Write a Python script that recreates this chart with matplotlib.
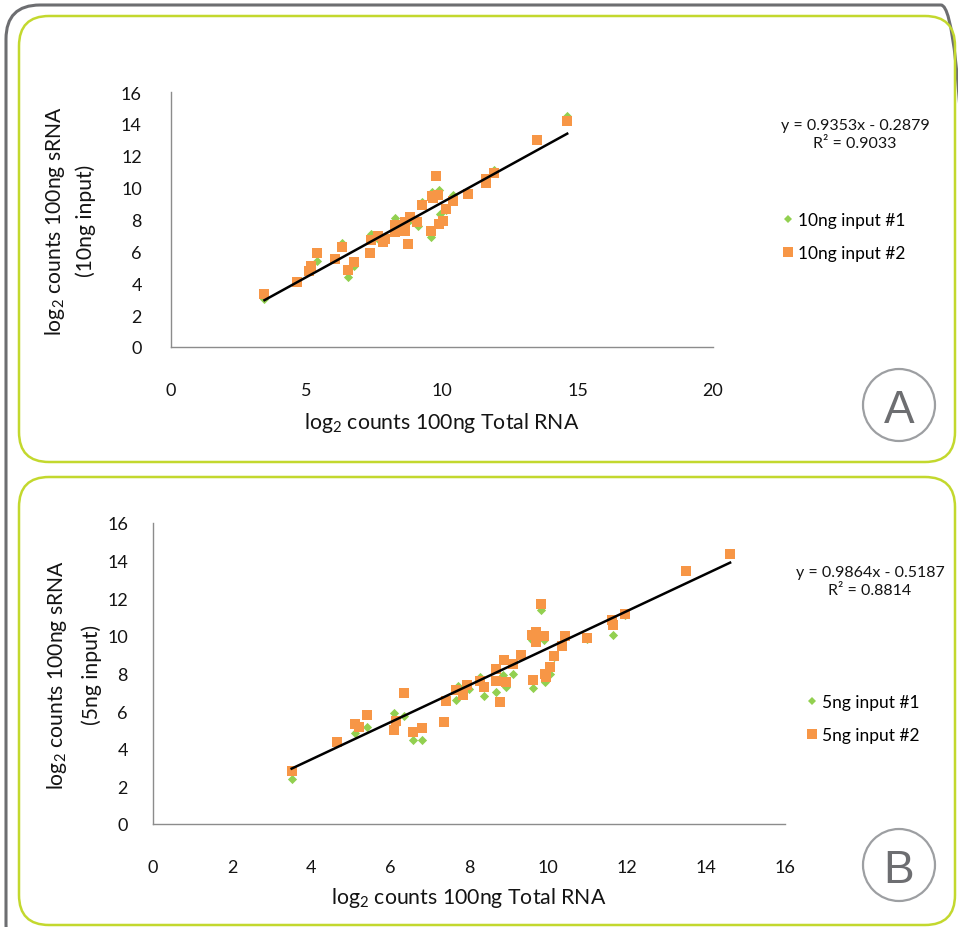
import matplotlib
matplotlib.use("Agg")
import matplotlib.pyplot as plt
from matplotlib.patches import FancyBboxPatch, Circle
from matplotlib.transforms import IdentityTransform
from matplotlib.lines import Line2D
import numpy as np

# ---------------- data ----------------
a_x2 = [3.45, 4.64, 5.08, 5.15, 5.39, 6.06, 6.32, 6.53, 6.76, 7.33, 7.37, 7.65, 7.83, 7.88,
        8.27, 8.27, 8.65, 8.65, 8.76, 8.82, 9.07, 9.27, 9.59, 9.62, 9.68, 9.86, 9.79, 9.90,
        10.03, 10.14, 10.42, 10.95, 11.61, 11.61, 11.91, 13.52, 14.62]
a_y2 = [3.30, 4.10, 4.75, 5.10, 5.90, 5.52, 6.25, 4.81, 5.31, 5.90, 6.69, 6.94, 6.57, 6.78,
        7.65, 7.19, 7.82, 7.30, 6.48, 8.13, 7.82, 8.91, 7.26, 9.49, 9.33, 9.56, 10.75, 7.72,
        7.92, 8.66, 9.14, 9.60, 10.54, 10.29, 10.92, 13.00, 14.20]
a_x1 = [3.45, 5.15, 5.39, 6.06, 6.32, 6.53, 6.76, 7.37, 7.65, 7.88, 8.27, 8.65, 8.82, 9.10,
        9.27, 9.59, 9.62, 9.89, 9.91, 10.14, 10.41, 10.95, 11.61, 11.92, 13.52, 14.62]
a_y1 = [3.00, 5.00, 5.42, 5.60, 6.50, 4.37, 5.10, 7.09, 6.80, 6.90, 8.09, 7.60, 8.00, 7.61,
        9.10, 6.88, 9.74, 9.83, 8.32, 8.60, 9.54, 9.60, 10.40, 11.10, 13.00, 14.47]
a_slope, a_icpt, a_r2 = 0.9353, -0.2879, 0.9033

b_x2 = [3.51, 4.67, 5.12, 5.22, 5.43, 6.09, 6.15, 6.35, 6.58, 6.81, 7.37, 7.41, 7.67, 7.86,
        7.94, 8.28, 8.39, 8.68, 8.68, 8.78, 8.89, 8.93, 9.12, 9.31, 9.61, 9.59, 9.69, 9.69,
        9.82, 9.90, 9.93, 9.95, 10.05, 10.15, 10.35, 10.44, 10.98, 11.62, 11.64, 11.95,
        13.49, 14.61]
b_y2 = [2.82, 4.34, 5.32, 5.18, 5.80, 5.00, 5.46, 6.97, 4.91, 5.09, 5.44, 6.56, 7.13, 6.86,
        7.41, 7.62, 7.27, 7.62, 8.24, 6.47, 8.74, 7.57, 8.53, 8.99, 7.68, 10.02, 10.23, 9.66,
        11.70, 9.98, 7.98, 7.80, 8.33, 8.92, 9.48, 9.98, 9.87, 10.82, 10.59, 11.17,
        13.46, 14.36]
b_x1 = [3.51, 5.12, 5.43, 6.09, 6.35, 6.15, 6.58, 6.81, 7.37, 7.67, 7.72, 8.00, 8.28, 8.39,
        8.68, 8.87, 8.93, 9.12, 9.61, 9.59, 9.82, 9.90, 9.93, 10.05, 10.15, 10.98, 11.64,
        11.95, 14.61]
b_y1 = [2.39, 4.82, 5.14, 5.89, 5.76, 5.30, 4.45, 4.45, 5.50, 6.61, 7.35, 7.20, 7.80, 6.83,
        7.00, 7.90, 7.30, 7.98, 7.21, 9.80, 11.35, 9.80, 7.57, 7.98, 8.90, 9.85, 10.05,
        11.10, 14.40]
b_slope, b_icpt, b_r2 = 0.9864, -0.5187, 0.8814

a_xticks = [0, 5, 10, 15, 20]
b_xticks = [0, 2, 4, 6, 8, 10, 12, 14, 16]
yticks = [0, 2, 4, 6, 8, 10, 12, 14, 16]

# ---------------- style ----------------
FONT = "Lato"
plt.rcParams['font.family'] = [FONT, 'DejaVu Sans']
plt.rcParams['mathtext.fontset'] = 'custom'
plt.rcParams['mathtext.rm'] = FONT
plt.rcParams['mathtext.it'] = FONT
plt.rcParams['mathtext.bf'] = FONT

ORANGE = '#F79646'
GREEN = '#92D050'
LIME = '#C3D82E'
GRAY = '#6D6E71'
TXT = '#141414'

W, H = 958, 928
fig = plt.figure(figsize=(W / 100, H / 100), dpi=100)
fig.patch.set_facecolor('white')


def px(x, y):
    return x, H - y


def rbox(x0, y0, x1, y1, color, lw, r):
    X0, Y1 = px(x0, y0)
    X1, Y0 = px(x1, y1)
    p = FancyBboxPatch((X0, Y0), X1 - X0, Y1 - Y0,
                       boxstyle=f"round,pad=0,rounding_size={r}",
                       transform=IdentityTransform(), facecolor='none',
                       edgecolor=color, linewidth=lw, zorder=0)
    fig.patches.append(p)


rbox(6, 6, 975, 960, GRAY, 2.2, 34)
rbox(19, 17, 955, 463, LIME, 1.8, 30)
rbox(19, 478, 955, 926, LIME, 1.8, 30)

for (cx, cy, letter) in [(899, 406, 'A'), (899, 866, 'B')]:
    X, Y = px(cx, cy)
    c = Circle((X, Y), 36, transform=IdentityTransform(), facecolor='white',
               edgecolor='#9d9fa2', linewidth=1.6)
    fig.patches.append(c)
    fig.text(X / W, Y / H, letter, ha='center', va='center_baseline', fontsize=33,
             color=GRAY, family=['Liberation Sans', 'DejaVu Sans'])


def panel(rect, xs1, ys1, xs2, ys2, slope, icpt, r2, xticks, xmax, lab1, lab2, ylab2,
          ylabel_x, xlab_y, eq_xy, leg_xy, ypad, xpad):
    ax = fig.add_axes(rect)
    ax.scatter(xs1, ys1, marker='D', s=22, color=GREEN, linewidths=0, zorder=3)
    ax.scatter(xs2, ys2, marker='s', s=50, color=ORANGE, linewidths=0, zorder=4)
    allx = np.array(xs1 + xs2)
    lx = np.array([allx.min(), allx.max()])
    ax.plot(lx, slope * lx + icpt, color='black', lw=1.8, zorder=5)
    ax.set_xlim(0, xmax)
    ax.set_ylim(0, 16)
    ax.set_xticks(xticks)
    ax.set_yticks(yticks)
    ax.tick_params(length=0, labelsize=13, colors=TXT)
    ax.tick_params(axis='y', pad=ypad)
    ax.tick_params(axis='x', pad=xpad)
    for s in ['top', 'right']:
        ax.spines[s].set_visible(False)
    for s in ['left', 'bottom']:
        ax.spines[s].set_color('#8c8c8c')
        ax.spines[s].set_linewidth(1.0)
    ax.patch.set_alpha(0)
    xl = 'log$_2$ counts 100ng Total RNA'
    fig.text((rect[0] + rect[2] / 2), xlab_y, xl, ha='center', va='center',
             fontsize=15.3, color=TXT)
    ymid = rect[1] + rect[3] / 2
    fig.text(ylabel_x[0], ymid, 'log$_2$ counts 100ng sRNA', rotation=90,
             ha='center', va='center', fontsize=15.2, color=TXT)
    fig.text(ylabel_x[1], ymid, ylab2, rotation=90,
             ha='center', va='center', fontsize=15.2, color=TXT)
    fig.text(eq_xy[0], eq_xy[1], f'y = {slope:.4f}x - {abs(icpt):.4f}',
             ha='center', va='top', fontsize=11.5, color=TXT)
    fig.text(eq_xy[0], eq_xy[1] - 18 / H, f'R² = {r2:.4f}',
             ha='center', va='top', fontsize=11.5, color=TXT)
    h1 = Line2D([], [], marker='D', ls='none', color=GREEN, markersize=4.5, markeredgewidth=0)
    h2 = Line2D([], [], marker='s', ls='none', color=ORANGE, markersize=6.5, markeredgewidth=0)
    ax.legend([h1, h2], [lab1, lab2], loc='upper left', bbox_to_anchor=leg_xy,
              bbox_transform=fig.transFigure, frameon=False, fontsize=12.5,
              handletextpad=0.1, handlelength=1.0, labelspacing=1.0, borderaxespad=0)
    return ax


panel([171 / W, 1 - 348 / H, (713 - 171) / W, (348 - 93) / H],
      a_x1, a_y1, a_x2, a_y2, a_slope, a_icpt, a_r2, a_xticks, 20,
      '10ng input #1', '10ng input #2', '(10ng input)',
      (55 / W, 86 / W), 1 - 423 / H, (855 / W, 1 - 119 / H), (772 / W, 1 - 206 / H), 21, 25)

panel([153 / W, 1 - 825 / H, (785 - 153) / W, (825 - 524) / H],
      b_x1, b_y1, b_x2, b_y2, b_slope, b_icpt, b_r2, b_xticks, 16,
      '5ng input #1', '5ng input #2', '(5ng input)',
      (57 / W, 92 / W), 1 - 898 / H, (870 / W, 1 - 566 / H), (796 / W, 1 - 688 / H), 18, 25)

fig.savefig('out.png', dpi=100)
